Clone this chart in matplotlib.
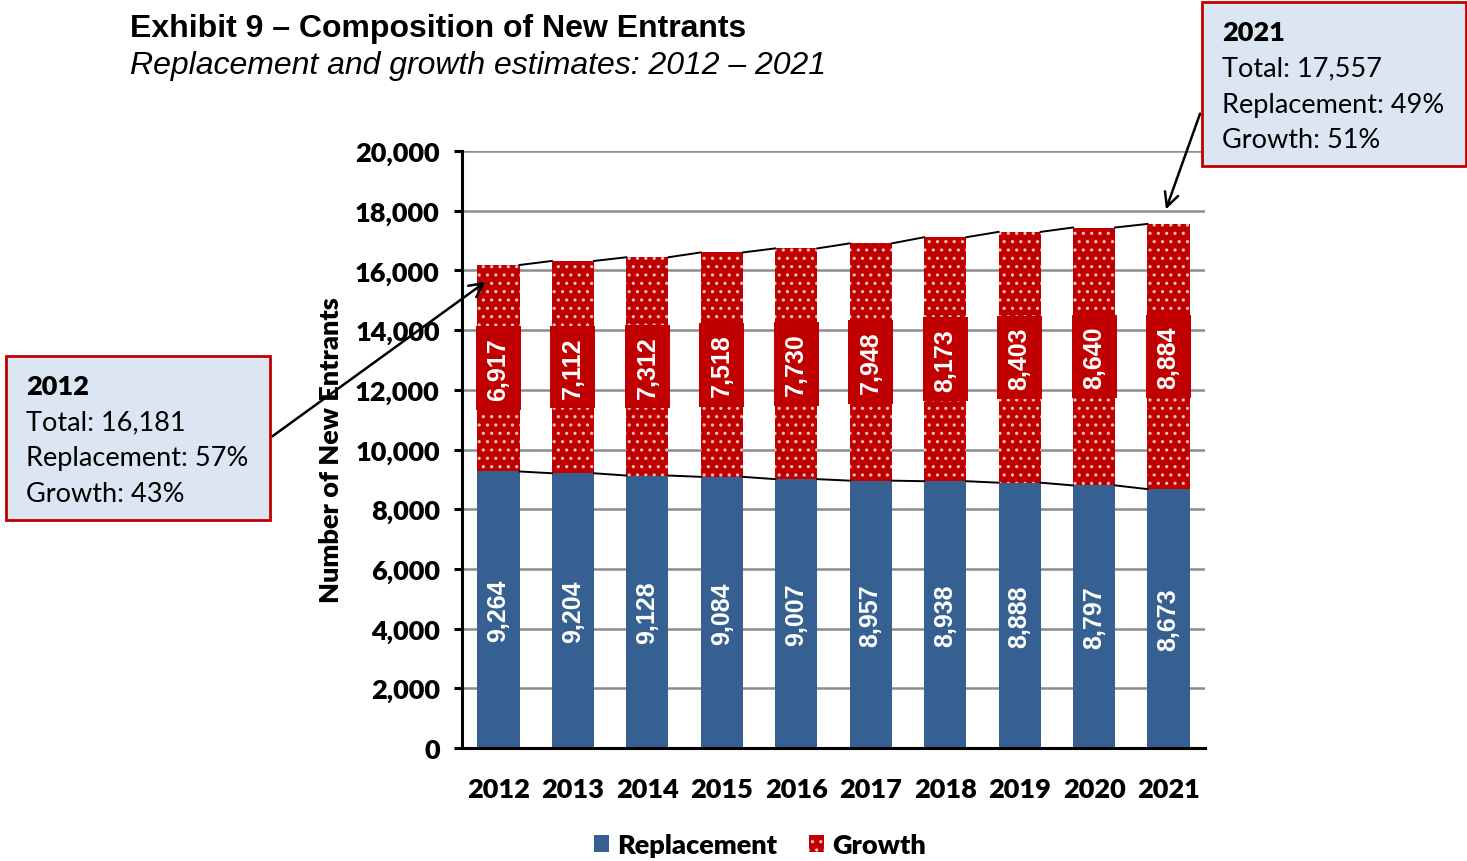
import numpy as np
import matplotlib.pyplot as plt
from matplotlib.patches import Patch

plt.rcParams['hatch.linewidth'] = 1.1

years = ['2012', '2013', '2014', '2015', '2016', '2017', '2018', '2019', '2020', '2021']
replacement = [9264, 9204, 9128, 9084, 9007, 8957, 8938, 8888, 8797, 8673]
growth = [6917, 7112, 7312, 7518, 7730, 7948, 8173, 8403, 8640, 8884]
yticks = [0, 2000, 4000, 6000, 8000, 10000, 12000, 14000, 16000, 18000, 20000]

BLUE = '#376092'
RED = '#C00000'
DOT = '#F0C4C4'
BOXFILL = '#DCE6F2'
FONT = ['Lato', 'DejaVu Sans']
AFONT = ['Liberation Sans', 'DejaVu Sans']

W, H = 1467, 862
fig = plt.figure(figsize=(W / 100, H / 100), dpi=100)
ax = fig.add_axes([462 / W, (H - 749) / H, (1205 - 462) / W, (749 - 152) / H])

x = np.arange(len(years))
rep = np.array(replacement)
gro = np.array(growth)
tot = rep + gro
bw = 0.565

ax.bar(x, rep, bw, color=BLUE, zorder=2)
ax.bar(x, gro, bw, bottom=rep, color=RED, edgecolor=DOT, hatch='..', linewidth=0, zorder=2)

# series lines between adjacent bars
for i in range(len(x) - 1):
    ax.plot([x[i] + bw / 2, x[i + 1] - bw / 2], [tot[i], tot[i + 1]], color='black', lw=1.4, zorder=3)
    ax.plot([x[i] + bw / 2, x[i + 1] - bw / 2], [rep[i], rep[i + 1]], color='black', lw=1.4, zorder=3)

# value labels
for i in range(len(x)):
    ax.text(x[i], rep[i] / 2, f'{rep[i]:,}', rotation=90, ha='center', va='center',
            color='white', fontsize=18, fontweight='bold', fontfamily=AFONT, zorder=4)
    ax.text(x[i], rep[i] + gro[i] / 2, f'{gro[i]:,}', rotation=90, ha='center', va='center',
            color='white', fontsize=18, fontweight='bold', fontfamily=AFONT, zorder=4,
            bbox=dict(boxstyle='square,pad=0.42', fc=RED, ec='none'))

ax.set_xlim(-0.49, 9.49)
ax.set_ylim(0, 20000)
ax.set_yticks(yticks)
ax.set_yticklabels([f'{v:,}' for v in yticks])
ax.set_xticks(x)
ax.set_xticklabels(years)
ax.yaxis.grid(True, color='#8C8C8C', lw=1.8, zorder=0)
ax.set_axisbelow(True)
for s in ['top', 'right']:
    ax.spines[s].set_visible(False)
for s in ['left', 'bottom']:
    ax.spines[s].set_linewidth(2.2)
ax.tick_params(axis='y', length=6, width=2.2, pad=10)
ax.tick_params(axis='x', length=0, pad=21)
for lab in ax.get_xticklabels() + ax.get_yticklabels():
    lab.set_fontsize(19.5)
    lab.set_fontweight('heavy')
    lab.set_fontfamily(FONT)
ax.set_ylabel('Number of New Entrants', fontsize=19.5, fontweight='heavy', fontfamily=FONT, labelpad=9)

# title
fig.text(130 / W, 1 - 29 / H, 'Exhibit 9 \u2013 Composition of New Entrants', fontsize=23,
         fontweight='bold', fontfamily=AFONT, va='center', ha='left')
fig.text(130 / W, 1 - 66 / H, 'Replacement and growth estimates: 2012 \u2013 2021', fontsize=23,
         fontstyle='italic', fontfamily=AFONT, va='center', ha='left')

# callout boxes
def callout(x0, y0, x1, y1, year, total, rp, gp):
    fig.patches.append(plt.Rectangle((x0 / W, 1 - y1 / H), (x1 - x0) / W, (y1 - y0) / H,
                                     transform=fig.transFigure, fc=BOXFILL, ec=RED, lw=2, zorder=5))
    tx = (x0 + 20) / W
    fig.text(tx, 1 - (y0 + 30) / H, year, fontsize=19.5, fontweight='heavy', fontfamily=FONT, va='center', zorder=6)
    fig.text(tx, 1 - (y0 + 66) / H, f'Total: {total:,}', fontsize=19.5, fontfamily=FONT, va='center', zorder=6)
    fig.text(tx, 1 - (y0 + 102) / H, f'Replacement: {rp}%', fontsize=19.5, fontfamily=FONT, va='center', zorder=6)
    fig.text(tx, 1 - (y0 + 138) / H, f'Growth: {gp}%', fontsize=19.5, fontfamily=FONT, va='center', zorder=6)

callout(6, 357, 270, 521, years[0], tot[0], round(100 * rep[0] / tot[0]), round(100 * gro[0] / tot[0]))
callout(1202, 3, 1466, 167, years[-1], tot[-1], round(100 * rep[-1] / tot[-1]), round(100 * gro[-1] / tot[-1]))

ax.annotate('', xy=(488 / W, 1 - 281 / H), xytext=(270 / W, 1 - 439 / H),
            xycoords='figure fraction', textcoords='figure fraction',
            arrowprops=dict(arrowstyle='->', color='black', lw=1.8, mutation_scale=25))
ax.annotate('', xy=(1165 / W, 1 - 213 / H), xytext=(1201 / W, 1 - 112 / H),
            xycoords='figure fraction', textcoords='figure fraction',
            arrowprops=dict(arrowstyle='->', color='black', lw=1.8, mutation_scale=25))

handles = [Patch(fc=BLUE, ec='none'), Patch(fc=RED, ec=DOT, hatch='..', lw=0)]
leg = fig.legend(handles, ['Replacement', 'Growth'], loc='center', bbox_to_anchor=(760 / W, 1 - 846 / H),
                 ncol=2, frameon=False, handlelength=0.55, handleheight=0.55, handletextpad=0.33,
                 columnspacing=1.15, prop=dict(family=FONT, weight='heavy', size=19.5))

fig.savefig('out.png', dpi=100)
